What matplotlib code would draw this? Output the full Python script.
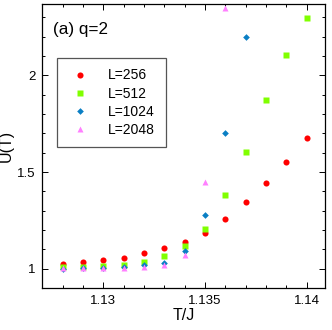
import matplotlib
matplotlib.use("Agg")
import matplotlib.pyplot as plt
from matplotlib.ticker import MultipleLocator

plt.rcParams['font.family'] = ['Liberation Sans', 'DejaVu Sans']

# temperatures T/J
T = [1.128, 1.129, 1.130, 1.131, 1.132, 1.133, 1.134, 1.135, 1.136, 1.137, 1.138, 1.139, 1.140]

# Binder-like ratio U(T) per system size
u_256 = [1.027, 1.034, 1.044, 1.055, 1.079, 1.106, 1.141, 1.186, 1.256, 1.345, 1.443, 1.553, 1.677]
u_512 = [1.010, 1.010, 1.013, 1.020, 1.034, 1.067, 1.120, 1.208, 1.383, 1.606, 1.872, 2.106, 2.295]
T_1024 = T[:10]
u_1024 = [1.000, 1.003, 1.005, 1.010, 1.017, 1.031, 1.091, 1.278, 1.704, 2.200]
T_2048 = T[:9]
u_2048 = [1.003, 1.003, 1.003, 1.006, 1.010, 1.017, 1.072, 1.450, 2.350]

fig = plt.figure(figsize=(3.32, 3.30), dpi=100)
ax = fig.add_axes([0.127, 0.127, 0.852, 0.861])

ax.plot(T, u_256, 'o', color='#ff0000', ms=4.4, mec='none', label='L=256')
ax.plot(T, u_512, 's', color='#80ff00', ms=4.5, mec='none', label='L=512')
ax.plot(T_1024, u_1024, 'D', color='#0a7fc4', ms=3.4, mec='none', label='L=1024')
ax.plot(T_2048, u_2048, '^', color='#ff80ff', ms=4.5, mec='none', label='L=2048')

ax.set_xlim(1.127, 1.1409)
ax.set_ylim(0.9, 2.37)
ax.set_xticks([1.13, 1.135, 1.14])
ax.set_xticklabels(['1.13', '1.135', '1.14'])
ax.set_yticks([1, 1.5, 2])
ax.set_yticklabels(['1', '1.5', '2'])
ax.xaxis.set_minor_locator(MultipleLocator(0.001))
ax.yaxis.set_minor_locator(MultipleLocator(0.1))
ax.tick_params(which='both', direction='in', top=True, right=True, labelsize=9.5, width=0.7)
ax.tick_params(which='major', length=4.5, pad=5)
ax.tick_params(which='minor', length=2.5)
for s in ax.spines.values():
    s.set_linewidth(0.9)

ax.set_xlabel('T/J', fontsize=11.5, labelpad=1)
ax.set_ylabel('U(T)', fontsize=11.5, labelpad=2)

ax.text(0.04, 0.91, '(a) q=2', transform=ax.transAxes, fontsize=12.3, va='center')

leg = ax.legend(loc='upper left', bbox_to_anchor=(0.052, 0.81), fontsize=10,
                frameon=True, fancybox=False, edgecolor='#555555', framealpha=1,
                handletextpad=1.08, labelspacing=0.3, borderpad=0.75,
                handlelength=1.87, borderaxespad=0)
leg.get_frame().set_linewidth(0.9)

fig.savefig('out.png', dpi=100)
